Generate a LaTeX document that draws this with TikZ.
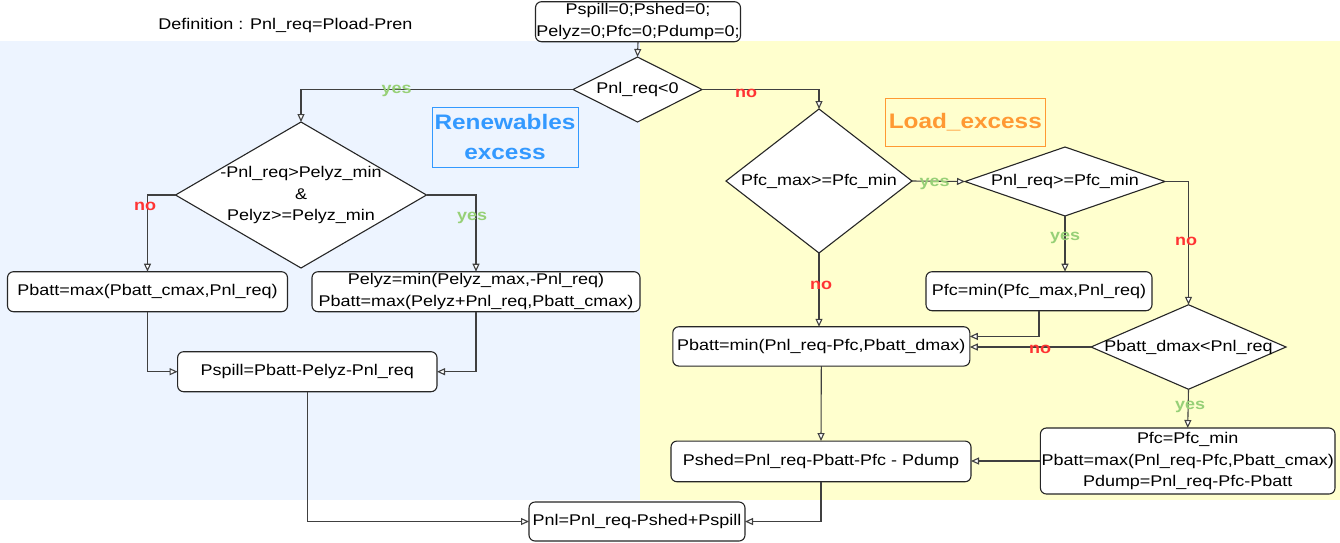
\documentclass[tikz,border=0pt]{standalone}
\usepackage{fontspec}
\setmainfont{Liberation Sans}[FakeStretch=1.16]
\usetikzlibrary{shapes.geometric,arrows.meta}
\definecolor{bgblue}{RGB}{237,244,255}
\definecolor{bgyellow}{RGB}{255,255,206}
\definecolor{yesgreen}{RGB}{151,208,119}
\definecolor{nored}{RGB}{255,51,51}
\definecolor{renblue}{RGB}{51,153,255}
\definecolor{loadorange}{RGB}{255,153,51}
\newcommand\fs{\fontsize{15.5}{21.5}\selectfont}
\newcommand\bigfs{\fontsize{21}{30}\selectfont}
\tikzset{
  box/.style={draw=black!85, line width=1.1pt, rounded corners=6pt, fill=white, align=center, font=\fs, inner sep=0pt, outer sep=0pt},
  dia/.style={draw=black!85, line width=1.1pt, shape=diamond, fill=white, inner sep=0pt, outer sep=0pt},
  dtext/.style={font=\fs, align=center, inner sep=0pt},
  conn/.style={draw=black!75, line width=1.1pt, -{Triangle[fill=white,length=8pt,width=7pt]}},
  yeslab/.style={font=\bfseries\fs, text=yesgreen, inner sep=0pt},
  nolab/.style={font=\bfseries\fs, text=nored, inner sep=0pt},
  plain/.style={font=\fs, inner sep=0pt}
}
\begin{document}
\begin{tikzpicture}[x=1pt,y=-1pt]
\useasboundingbox (0,0) rectangle (1340,542);
\fill[white] (0,0) rectangle (1340,542);
% backgrounds
\fill[bgblue] (0,41) rectangle (640,500);
\fill[bgyellow] (640,41) rectangle (1340,500);
% definition
\node[plain] (def) at (285.5,25) {Definition : Pnl\_req=Pload-Pren};
% region labels
\node[draw=renblue, line width=0.8pt, minimum width=146, minimum height=60, inner sep=0pt, align=center, font=\bfseries\bigfs, text=renblue] (ren) at (505,137) {Renewables\\excess};
\node[draw=loadorange, line width=0.8pt, minimum width=159.5, minimum height=48, inner sep=0pt, font=\bfseries\bigfs, text=loadorange] (load) at (965.3,122) {Load\_excess};
% boxes
\node[box, minimum width=205, minimum height=40] (top) at (638,21.7) {Pspill=0;Pshed=0;\\Pelyz=0;Pfc=0;Pdump=0;};
\node[box, minimum width=280, minimum height=40] (b1) at (147.5,291.7) {Pbatt=max(Pbatt\_cmax,Pnl\_req)};
\node[box, minimum width=328, minimum height=40] (b2) at (476,291.7) {Pelyz=min(Pelyz\_max,-Pnl\_req)\\Pbatt=max(Pelyz+Pnl\_req,Pbatt\_cmax)};
\node[box, minimum width=259.4, minimum height=40] (b3) at (307.3,371.7) {Pspill=Pbatt-Pelyz-Pnl\_req};
\node[box, minimum width=216, minimum height=39] (fin) at (637,521.5) {Pnl=Pnl\_req-Pshed+Pspill};
\node[box, minimum width=226, minimum height=39] (b4) at (1039,291.2) {Pfc=min(Pfc\_max,Pnl\_req)};
\node[box, minimum width=297, minimum height=39.3] (b5) at (821.3,346.4) {Pbatt=min(Pnl\_req-Pfc,Pbatt\_dmax)};
\node[box, minimum width=294.6, minimum height=66] (b6) at (1187.7,461) {Pfc=Pfc\_min\\Pbatt=max(Pnl\_req-Pfc,Pbatt\_cmax)\\Pdump=Pnl\_req-Pfc-Pbatt};
\node[box, minimum width=300, minimum height=40.7] (b7) at (821,461.4) {Pshed=Pnl\_req-Pbatt-Pfc - Pdump};
% diamonds
\node[dia, minimum width=129, minimum height=65] (d1) at (637.5,89.5) {};
\node[dtext] at (d1) {Pnl\_req<0};
\node[dia, minimum width=251, minimum height=146] (d2) at (301,195) {};
\node[dtext] at (d2) {-Pnl\_req>Pelyz\_min\\\&\\Pelyz>=Pelyz\_min};
\node[dia, minimum width=186, minimum height=144] (d3) at (819,181) {};
\node[dtext] at (d3) {Pfc\_max>=Pfc\_min};
\node[dia, minimum width=200, minimum height=69] (d4) at (1065,181.5) {};
\node[dtext] at (d4) {Pnl\_req>=Pfc\_min};
\node[dia, minimum width=195, minimum height=84.5] (d5) at (1188.5,347) {};
\node[dtext] at (d5) {Pbatt\_dmax<Pnl\_req};
% connectors
\draw[conn] (top.south) -- (d1.north);
\draw[conn] (d1.west) -| (d2.north);
\draw[conn] (d1.east) -| (d3.north);
\draw[conn] (d2.west) -| (b1.north);
\draw[conn] (d2.east) -| (b2.north);
\draw[conn] (b1.south) |- (b3.west);
\draw[conn] (b2.south) |- (b3.east);
\draw[conn] (b3.south) |- (fin.west);
\draw[conn] (d3.east) -- (d4.west);
\draw[conn] (d4.south) -- (d4.south |- b4.north);
\draw[conn] (d4.east) -| (d5.north);
\draw[conn] (d3.south) -- (d3.south |- b5.north);
\draw[conn] (b4.south) |- ([yshift=10pt]b5.east);
\draw[conn] (d5.west) -- (d5.west -| b5.east);
\draw[conn] (d5.south) -- (b6.north);
\draw[conn] (b6.west) -- (b6.west -| b7.east);
\draw[conn] (b5.south) -- (b7.north);
\draw[conn] (b7.south) |- (fin.east);
% labels
\node[yeslab] (l1) at (396.5,91) {yes};
\node[nolab] (l2) at (746,93) {no};
\node[nolab] (l3) at (145,206) {no};
\node[yeslab] (l4) at (472,218) {yes};
\node[yeslab] (l5) at (934.6,184) {yes};
\node[yeslab] (l6) at (1065,238) {yes};
\node[nolab] (l7) at (1186,241) {no};
\node[nolab] (l8) at (821,285) {no};
\node[nolab] (l9) at (1040,349) {no};
\node[yeslab] (l10) at (1190,407) {yes};
\end{tikzpicture}
\end{document}
